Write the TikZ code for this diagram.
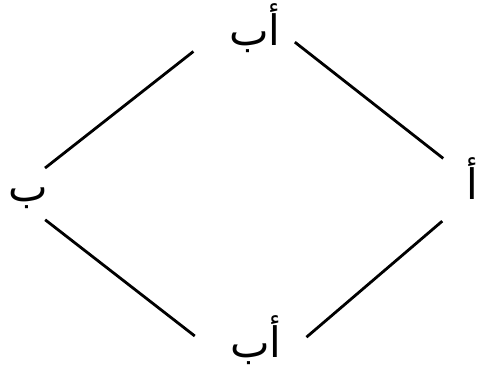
\documentclass[tikz,border=0pt]{standalone}
\usepackage{fontspec}
\newfontfamily\arabicfont[Script=Arabic]{DejaVu Sans}
\TeXXeTstate=1
\usetikzlibrary{positioning}
\tikzset{
    label ar/.style={font=\arabicfont\fontsize{42}{48}\selectfont, inner sep=0pt, anchor=base}, % the letters at the corners
    edge line/.style={line width=2.8pt} % the four sides
}

\begin{document}
\begin{tikzpicture}[x=1pt,y=-1pt]
    \useasboundingbox (0,0) rectangle (478,367);

    % corners of the lattice
    \coordinate (top) at (250,7);
    \coordinate (lft) at (12,194);
    \coordinate (rgt) at (481,188);
    \coordinate (bot) at (254,382);

    \node[label ar] (ab1) at (255,45) {\beginR أب\endR};
    \node[label ar] (b) at (28,201) {\beginR ب\endR};
    \node[label ar, anchor=base east] (a) at (478,199) {\beginR أ\endR};
    \node[label ar] (ab2) at (256,357) {\beginR أب\endR};

    \draw[edge line, shorten <=72pt, shorten >=42pt] (top) -- (lft);
    \draw[edge line, shorten <=57pt, shorten >=48pt] (top) -- (rgt);
    \draw[edge line, shorten <=42pt, shorten >=75pt] (lft) -- (bot);
    \draw[edge line, shorten <=51pt, shorten >=69pt] (rgt) -- (bot);
\end{tikzpicture}
\end{document}
